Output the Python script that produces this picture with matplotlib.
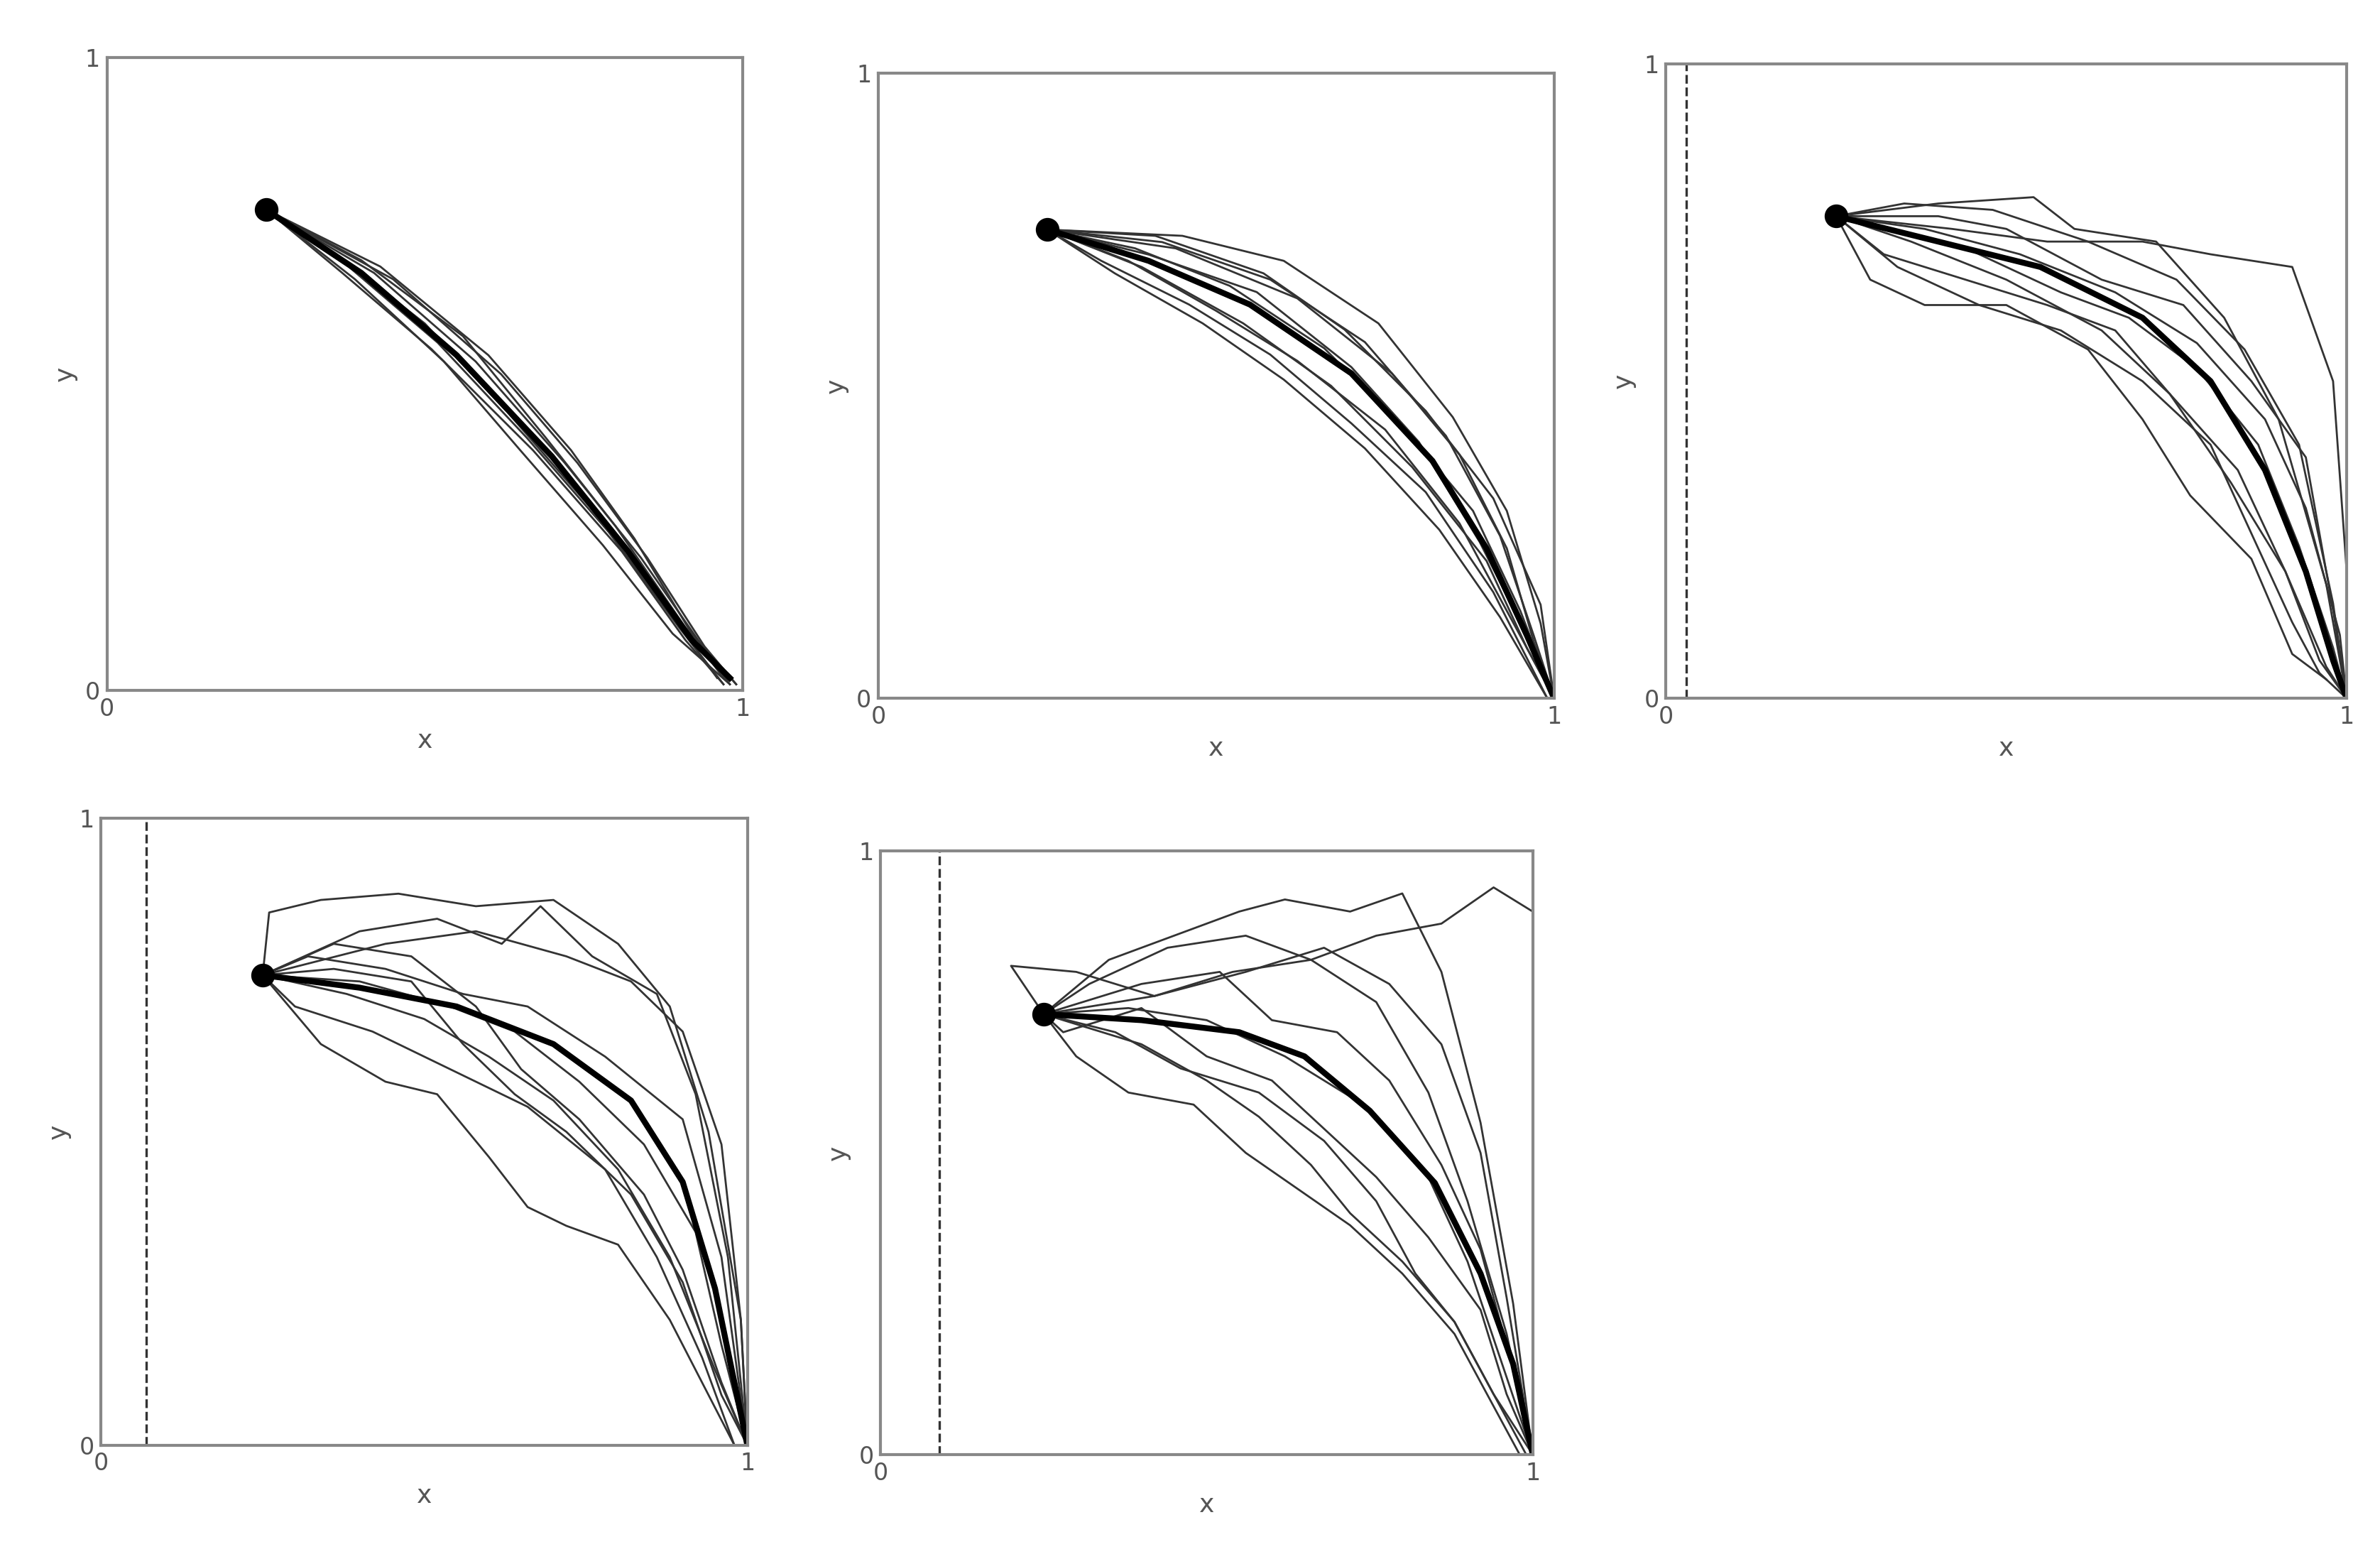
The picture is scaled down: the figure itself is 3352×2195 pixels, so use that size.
import matplotlib.pyplot as plt

# start point of every panel
starts = [(0.25, 0.76), (0.25, 0.75), (0.25, 0.76), (0.25, 0.75), (0.25, 0.73)]
# dashed vertical line per panel (None = no line)
dashed_x = [None, None, 0.03, 0.07, 0.09]

# thick mean curves
mean_x = [
    [0.25, 0.40, 0.55, 0.70, 0.82, 0.92, 0.98],
    [0.25, 0.40, 0.55, 0.70, 0.82, 0.90, 0.96, 1.00],
    [0.25, 0.40, 0.55, 0.70, 0.80, 0.88, 0.94, 0.98, 1.00],
    [0.25, 0.40, 0.55, 0.70, 0.82, 0.90, 0.95, 0.99, 1.00],
    [0.25, 0.40, 0.55, 0.65, 0.75, 0.85, 0.92, 0.97, 1.00],
]
mean_y = [
    [0.76, 0.66, 0.53, 0.37, 0.22, 0.08, 0.02],
    [0.75, 0.70, 0.63, 0.52, 0.38, 0.24, 0.10, 0.00],
    [0.76, 0.72, 0.68, 0.60, 0.50, 0.36, 0.20, 0.06, 0.00],
    [0.75, 0.73, 0.70, 0.64, 0.55, 0.42, 0.25, 0.05, 0.00],
    [0.73, 0.72, 0.70, 0.66, 0.57, 0.45, 0.30, 0.15, 0.00],
]

# thin sample trajectories, (x list, y list) per panel
paths = [
    [  # panel 1
        ([0.25, 0.38, 0.52, 0.66, 0.79, 0.90, 0.97], [0.76, 0.67, 0.55, 0.40, 0.25, 0.10, 0.01]),
        ([0.25, 0.42, 0.58, 0.72, 0.84, 0.93, 0.98], [0.76, 0.66, 0.52, 0.36, 0.21, 0.08, 0.01]),
        ([0.25, 0.36, 0.50, 0.63, 0.76, 0.88, 0.96], [0.76, 0.69, 0.58, 0.44, 0.29, 0.13, 0.02]),
        ([0.25, 0.45, 0.62, 0.74, 0.85, 0.94, 0.99], [0.76, 0.65, 0.50, 0.36, 0.21, 0.07, 0.01]),
        ([0.25, 0.40, 0.56, 0.69, 0.80, 0.91, 0.97], [0.76, 0.68, 0.56, 0.40, 0.26, 0.10, 0.02]),
        ([0.25, 0.39, 0.53, 0.65, 0.78, 0.89, 0.98], [0.76, 0.65, 0.52, 0.38, 0.23, 0.09, 0.01]),
        ([0.25, 0.43, 0.60, 0.73, 0.83, 0.92, 0.99], [0.76, 0.67, 0.53, 0.38, 0.24, 0.09, 0.01]),
        ([0.25, 0.37, 0.51, 0.67, 0.81, 0.91, 0.97], [0.76, 0.66, 0.54, 0.38, 0.22, 0.08, 0.01]),
    ],
    [  # panel 2
        ([0.25, 0.38, 0.52, 0.66, 0.78, 0.88, 0.95, 1.00], [0.75, 0.72, 0.66, 0.56, 0.43, 0.30, 0.14, 0.00]),
        ([0.25, 0.42, 0.58, 0.72, 0.84, 0.92, 0.97, 1.00], [0.75, 0.73, 0.67, 0.57, 0.42, 0.26, 0.10, 0.00]),
        ([0.25, 0.35, 0.48, 0.60, 0.72, 0.83, 0.92, 0.99], [0.75, 0.68, 0.60, 0.51, 0.40, 0.27, 0.13, 0.00]),
        ([0.25, 0.45, 0.60, 0.74, 0.85, 0.93, 0.98, 1.00], [0.75, 0.74, 0.70, 0.60, 0.45, 0.30, 0.12, 0.00]),
        ([0.25, 0.37, 0.50, 0.62, 0.75, 0.86, 0.94, 1.00], [0.75, 0.70, 0.62, 0.54, 0.43, 0.28, 0.12, 0.00]),
        ([0.25, 0.40, 0.56, 0.70, 0.80, 0.89, 0.96, 1.00], [0.75, 0.71, 0.65, 0.53, 0.41, 0.25, 0.10, 0.00]),
        ([0.25, 0.33, 0.46, 0.58, 0.70, 0.81, 0.91, 0.99], [0.75, 0.70, 0.63, 0.55, 0.44, 0.33, 0.17, 0.00]),
        ([0.25, 0.44, 0.62, 0.76, 0.86, 0.93, 0.97, 1.00], [0.75, 0.72, 0.64, 0.52, 0.39, 0.24, 0.09, 0.00]),
        ([0.25, 0.39, 0.54, 0.67, 0.79, 0.90, 0.96, 1.00], [0.75, 0.69, 0.60, 0.50, 0.37, 0.22, 0.08, 0.00]),
        ([0.25, 0.41, 0.57, 0.69, 0.81, 0.91, 0.98, 1.00], [0.75, 0.74, 0.68, 0.59, 0.46, 0.32, 0.15, 0.00]),
    ],
    [  # panel 3
        ([0.25, 0.35, 0.48, 0.62, 0.75, 0.85, 0.93, 0.98, 1.00], [0.76, 0.78, 0.77, 0.72, 0.66, 0.55, 0.40, 0.15, 0.00]),
        ([0.25, 0.32, 0.44, 0.56, 0.66, 0.74, 0.83, 0.91, 0.97, 1.00], [0.76, 0.70, 0.66, 0.62, 0.58, 0.48, 0.34, 0.20, 0.05, 0.00]),
        ([0.25, 0.40, 0.54, 0.60, 0.72, 0.82, 0.90, 0.97, 1.00], [0.76, 0.78, 0.79, 0.74, 0.72, 0.60, 0.44, 0.18, 0.00]),
        ([0.25, 0.30, 0.38, 0.50, 0.62, 0.70, 0.77, 0.86, 0.92, 0.97], [0.76, 0.66, 0.62, 0.62, 0.55, 0.44, 0.32, 0.22, 0.07, 0.03]),
        ([0.25, 0.42, 0.56, 0.70, 0.80, 0.92, 0.98, 1.00, 1.00], [0.76, 0.74, 0.72, 0.72, 0.70, 0.68, 0.50, 0.20, 0.00]),
        ([0.25, 0.36, 0.50, 0.64, 0.74, 0.84, 0.91, 0.96, 1.00], [0.76, 0.72, 0.66, 0.58, 0.48, 0.36, 0.20, 0.06, 0.00]),
        ([0.25, 0.38, 0.52, 0.66, 0.78, 0.88, 0.94, 0.99, 1.00], [0.76, 0.74, 0.70, 0.64, 0.56, 0.44, 0.30, 0.10, 0.00]),
        ([0.25, 0.34, 0.46, 0.58, 0.70, 0.80, 0.86, 0.92, 0.96, 1.00], [0.76, 0.68, 0.62, 0.58, 0.50, 0.40, 0.26, 0.12, 0.04, 0.00]),
        ([0.25, 0.40, 0.50, 0.64, 0.76, 0.86, 0.94, 0.98, 1.00], [0.76, 0.76, 0.74, 0.66, 0.62, 0.50, 0.38, 0.14, 0.00]),
        ([0.25, 0.44, 0.58, 0.68, 0.78, 0.87, 0.93, 0.98, 1.00], [0.76, 0.71, 0.64, 0.60, 0.52, 0.40, 0.24, 0.08, 0.00]),
    ],
    [  # panel 4
        ([0.25, 0.26, 0.34, 0.46, 0.58, 0.70, 0.80, 0.88, 0.94, 0.99, 1.00], [0.75, 0.85, 0.87, 0.88, 0.86, 0.87, 0.80, 0.70, 0.50, 0.20, 0.00]),
        ([0.25, 0.34, 0.44, 0.52, 0.60, 0.66, 0.72, 0.80, 0.88, 0.94, 0.98], [0.75, 0.64, 0.58, 0.56, 0.46, 0.38, 0.35, 0.32, 0.20, 0.08, 0.00]),
        ([0.25, 0.36, 0.48, 0.58, 0.65, 0.74, 0.84, 0.90, 0.96, 1.00], [0.75, 0.80, 0.78, 0.70, 0.60, 0.52, 0.40, 0.28, 0.10, 0.00]),
        ([0.25, 0.40, 0.52, 0.62, 0.68, 0.76, 0.86, 0.92, 0.97, 1.00], [0.75, 0.82, 0.84, 0.80, 0.86, 0.78, 0.72, 0.56, 0.30, 0.00]),
        ([0.25, 0.38, 0.50, 0.60, 0.70, 0.80, 0.88, 0.95, 1.00], [0.75, 0.72, 0.68, 0.62, 0.55, 0.44, 0.30, 0.12, 0.00]),
        ([0.25, 0.32, 0.44, 0.56, 0.66, 0.78, 0.90, 0.96, 1.00], [0.75, 0.78, 0.76, 0.72, 0.70, 0.62, 0.52, 0.30, 0.00]),
        ([0.25, 0.40, 0.54, 0.64, 0.74, 0.84, 0.92, 0.96, 1.00], [0.75, 0.74, 0.70, 0.66, 0.58, 0.48, 0.34, 0.16, 0.00]),
        ([0.25, 0.36, 0.48, 0.56, 0.64, 0.72, 0.82, 0.90, 0.96, 1.00], [0.75, 0.76, 0.74, 0.64, 0.56, 0.50, 0.40, 0.26, 0.08, 0.00]),
        ([0.25, 0.44, 0.58, 0.72, 0.82, 0.90, 0.96, 0.99, 1.00], [0.75, 0.80, 0.82, 0.78, 0.74, 0.66, 0.48, 0.20, 0.00]),
        ([0.25, 0.30, 0.42, 0.54, 0.66, 0.78, 0.86, 0.93, 0.98], [0.75, 0.70, 0.66, 0.60, 0.54, 0.44, 0.30, 0.14, 0.00]),
    ],
    [  # panel 5
        ([0.25, 0.20, 0.30, 0.42, 0.54, 0.66, 0.76, 0.84, 0.90, 0.96, 1.00], [0.73, 0.81, 0.80, 0.76, 0.80, 0.82, 0.75, 0.60, 0.42, 0.20, 0.00]),
        ([0.25, 0.35, 0.45, 0.55, 0.62, 0.72, 0.80, 0.86, 0.92, 0.97, 1.00], [0.73, 0.82, 0.86, 0.90, 0.92, 0.90, 0.93, 0.80, 0.55, 0.25, 0.00]),
        ([0.25, 0.30, 0.38, 0.48, 0.56, 0.64, 0.72, 0.80, 0.88, 0.94, 0.98], [0.73, 0.66, 0.60, 0.58, 0.50, 0.44, 0.38, 0.30, 0.20, 0.08, 0.00]),
        ([0.25, 0.40, 0.52, 0.60, 0.70, 0.78, 0.86, 0.92, 0.97, 1.00], [0.73, 0.78, 0.80, 0.72, 0.70, 0.62, 0.48, 0.34, 0.14, 0.00]),
        ([0.25, 0.28, 0.40, 0.50, 0.60, 0.68, 0.76, 0.84, 0.92, 0.96, 1.00], [0.73, 0.70, 0.74, 0.66, 0.62, 0.54, 0.46, 0.36, 0.24, 0.10, 0.00]),
        ([0.25, 0.42, 0.56, 0.68, 0.78, 0.86, 0.92, 0.96, 1.00], [0.73, 0.76, 0.80, 0.84, 0.78, 0.68, 0.50, 0.26, 0.00]),
        ([0.25, 0.36, 0.46, 0.58, 0.68, 0.76, 0.82, 0.88, 0.94, 1.00], [0.73, 0.70, 0.64, 0.60, 0.52, 0.42, 0.30, 0.22, 0.10, 0.00]),
        ([0.25, 0.38, 0.50, 0.62, 0.74, 0.84, 0.90, 0.95, 1.00], [0.73, 0.74, 0.72, 0.66, 0.58, 0.46, 0.32, 0.16, 0.00]),
        ([0.25, 0.32, 0.44, 0.56, 0.66, 0.76, 0.86, 0.94, 1.00, 1.00], [0.73, 0.78, 0.84, 0.86, 0.82, 0.86, 0.88, 0.94, 0.90, 0.00]),
        ([0.25, 0.40, 0.50, 0.58, 0.66, 0.72, 0.80, 0.88, 0.94, 0.99], [0.73, 0.68, 0.62, 0.56, 0.48, 0.40, 0.32, 0.22, 0.10, 0.00]),
    ],
]

# axes rectangles [left, bottom, width, height] in figure fractions
boxes = [
    [0.045, 0.557, 0.267, 0.406],
    [0.369, 0.552, 0.284, 0.401],
    [0.700, 0.552, 0.286, 0.407],
    [0.0425, 0.073, 0.2715, 0.402],
    [0.370, 0.067, 0.274, 0.387],
]


def main():
    fig = plt.figure(figsize=(16.76, 10.975), dpi=200)
    grey = "#888888"
    for i in range(5):
        ax = fig.add_axes(boxes[i])
        for px, py in paths[i]:
            ax.plot(px, py, color="#333333", lw=1.0)
        ax.plot(mean_x[i], mean_y[i], color="black", lw=3.0)
        ax.plot(*starts[i], "o", color="black", ms=11)
        if dashed_x[i] is not None:
            ax.axvline(dashed_x[i], color="#333333", lw=1.2, ls="--")
        ax.set_xlim(0, 1)
        ax.set_ylim(0, 1)
        ax.set_xticks([0, 1])
        ax.set_yticks([0, 1])
        ax.tick_params(length=0, labelsize=12, colors="#555555")
        for sp in ax.spines.values():
            sp.set_color(grey)
            sp.set_linewidth(1.5)
        ax.set_xlabel("x", color="#555555", fontsize=13)
        ax.set_ylabel("y", color="#555555", fontsize=13)
    fig.savefig("out.png")


if __name__ == "__main__":
    main()
